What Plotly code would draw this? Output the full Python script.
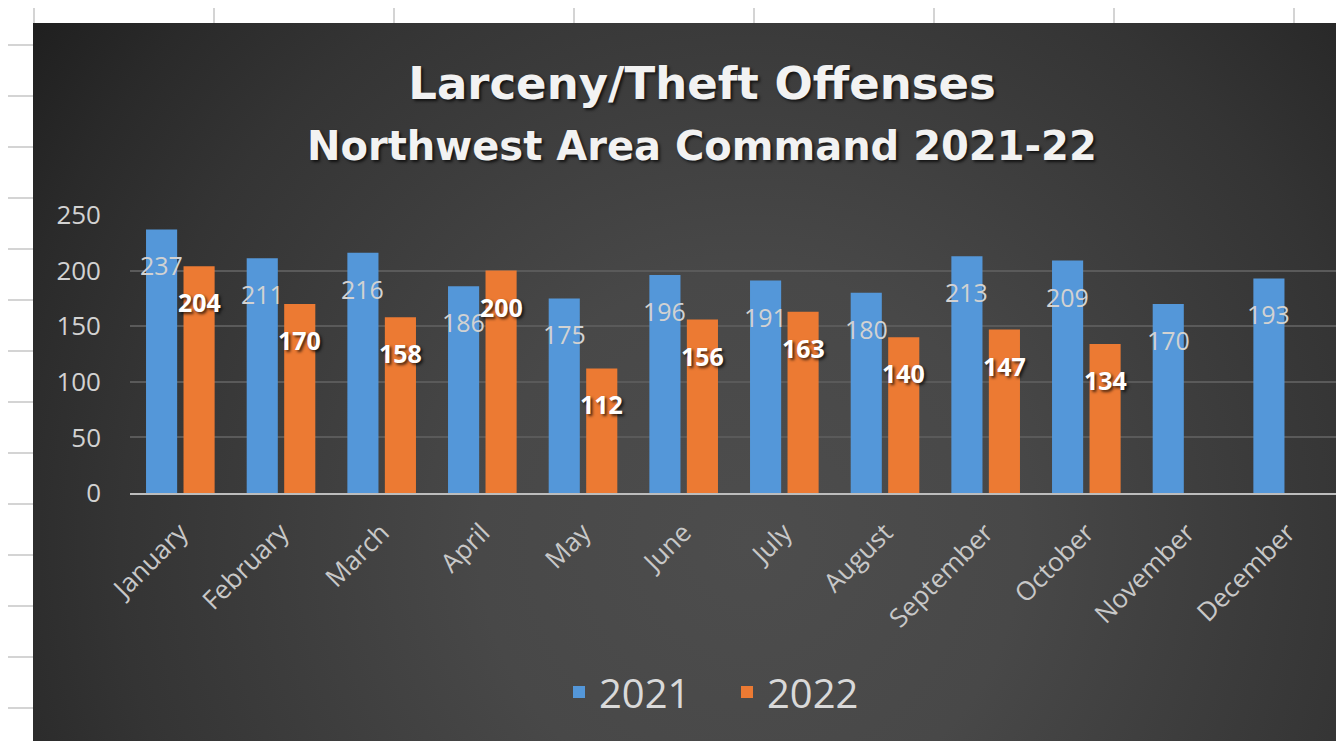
import plotly.graph_objects as go
import urllib.parse

# ---------------- data ----------------
months = ["January", "February", "March", "April", "May", "June", "July",
          "August", "September", "October", "November", "December"]
values_2021 = [237, 211, 216, 186, 175, 196, 191, 180, 213, 209, 170, 193]
values_2022 = [204, 170, 158, 200, 112, 156, 163, 140, 147, 134, None, None]
series_names = ["2021", "2022"]
y_ticks = [0, 50, 100, 150, 200, 250]

# ---------------- layout constants ----------------
# the page body adds an 8px offset; positions below are in screenshot pixels
OFF = 8
W, H = 1344 - OFF, 741 - OFF
PLOT_X0, PLOT_X1, PLOT_Y0, PLOT_Y1 = 130, 1338, 215, 493   # screenshot px
ML, MR = PLOT_X0 - OFF, (1344 - PLOT_X1)
MT, MB = PLOT_Y0 - OFF, (741 - PLOT_Y1)
PW, PH = W - ML - MR, H - MT - MB
BARGAP, GROUPGAP = 0.255, 0.17
BLUE, ORANGE = "#5497d9", "#ec7a33"


def px2x(px):
    return (px - PLOT_X0) / PW


def py2y(py):
    return (PLOT_Y1 - py) / PH


fig = go.Figure()
fig.add_trace(go.Bar(x=months, y=values_2021, name=series_names[0],
                     marker=dict(color=BLUE, line=dict(width=0))))
fig.add_trace(go.Bar(x=months, y=values_2022, name=series_names[1],
                     marker=dict(color=ORANGE, line=dict(width=0))))

# data labels (offset to each bar of the group)
cat_px = PW / len(months)
off = (1 - BARGAP) * cat_px / 4
annotations = []
for m, v in zip(months, values_2021):
    if v is not None:
        annotations.append(dict(x=m, y=v, text=str(v), showarrow=False,
                                xshift=-off, yshift=-36, yanchor="middle",
                                font=dict(family="Open Sans", size=25, color="#d2d2d2")))
for m, v in zip(months, values_2022):
    if v is not None:
        annotations.append(dict(x=m, y=v, text=str(v), showarrow=False,
                                xshift=off, yshift=-36, yanchor="middle",
                                font=dict(family="Open Sans", size=25, color="#ffffff",
                                          weight=700, shadow="2px 2px 3px rgba(0,0,0,0.7)")))

# subtitle
annotations.append(dict(xref="paper", yref="paper", x=px2x(702), y=py2y(146),
                        text="Northwest Area Command 2021-22", showarrow=False,
                        xanchor="center", yanchor="middle",
                        font=dict(family="DejaVu Sans", size=40, color="#f2f2f2",
                                  weight=700, shadow="2px 2px 3px rgba(0,0,0,0.7)")))

# spreadsheet background + chart area
shapes = []
for py in range(45, 741, 51):
    shapes.append(dict(type="line", xref="paper", yref="paper", layer="below",
                       x0=px2x(OFF), x1=px2x(33), y0=py2y(py), y1=py2y(py),
                       line=dict(color="#d4d4d4", width=2)))
for px in range(34, 1344, 180):
    shapes.append(dict(type="line", xref="paper", yref="paper", layer="below",
                       x0=px2x(px), x1=px2x(px), y0=py2y(OFF), y1=py2y(23),
                       line=dict(color="#d4d4d4", width=2)))

svg = ('<svg xmlns="http://www.w3.org/2000/svg" width="1311" height="718" '
       'viewBox="0 0 1311 718" preserveAspectRatio="none">'
       '<defs><radialGradient id="g" gradientUnits="userSpaceOnUse" '
       'cx="717" cy="520" r="900">'
       '<stop offset="0" stop-color="#4d4d4d"/>'
       '<stop offset="0.3" stop-color="#484848"/>'
       '<stop offset="0.5" stop-color="#3e3e3e"/>'
       '<stop offset="0.7" stop-color="#343434"/>'
       '<stop offset="0.85" stop-color="#2a2a2a"/>'
       '<stop offset="1" stop-color="#1e1e1e"/>'
       '</radialGradient></defs>'
       '<rect width="1311" height="718" fill="url(#g)"/></svg>')
img_src = "data:image/svg+xml;charset=utf-8," + urllib.parse.quote(svg)

fig.update_layout(
    width=W, height=H,
    paper_bgcolor="#ffffff", plot_bgcolor="rgba(0,0,0,0)",
    margin=dict(l=ML, r=MR, t=MT, b=MB),
    barmode="group", bargap=BARGAP, bargroupgap=GROUPGAP,
    title=dict(text="Larceny/Theft Offenses", xref="container", yref="container",
               x=(702 - OFF) / W, y=1 - (83 - OFF) / H, xanchor="center", yanchor="middle",
               font=dict(family="DejaVu Sans", size=45, color="#f2f2f2", weight=700,
                         shadow="2px 2px 3px rgba(0,0,0,0.7)")),
    xaxis=dict(tickangle=-45, showgrid=False, showline=True,
               linecolor="#bdbdbd", linewidth=2, ticks="",
               ticklabelstandoff=12,
               tickfont=dict(family="Open Sans", size=26, color="#c8c8c8")),
    yaxis=dict(range=[0, 250], tickvals=y_ticks, showgrid=True,
               gridcolor="#5a5a5a", gridwidth=2, zeroline=False, showline=False,
               ticks="", ticklabelstandoff=28,
               tickfont=dict(family="Open Sans", size=26, color="#d2d2d2")),
    legend=dict(orientation="h", xref="container", yref="container",
                x=(559 - OFF) / W, y=1 - (692 - OFF) / H, xanchor="left", yanchor="middle",
                font=dict(family="Open Sans", size=40, color="#d9d9d9"),
                bgcolor="rgba(0,0,0,0)", itemwidth=30,
                entrywidth=123, entrywidthmode="pixels"),
    annotations=annotations,
    shapes=shapes,
    images=[dict(source=img_src, xref="paper", yref="paper",
                 x=px2x(33), y=py2y(23), sizex=(1344 - 33) / PW, sizey=(741 - 23) / PH,
                 xanchor="left", yanchor="top", sizing="stretch", layer="below")],
)

fig.write_html("out.html")
